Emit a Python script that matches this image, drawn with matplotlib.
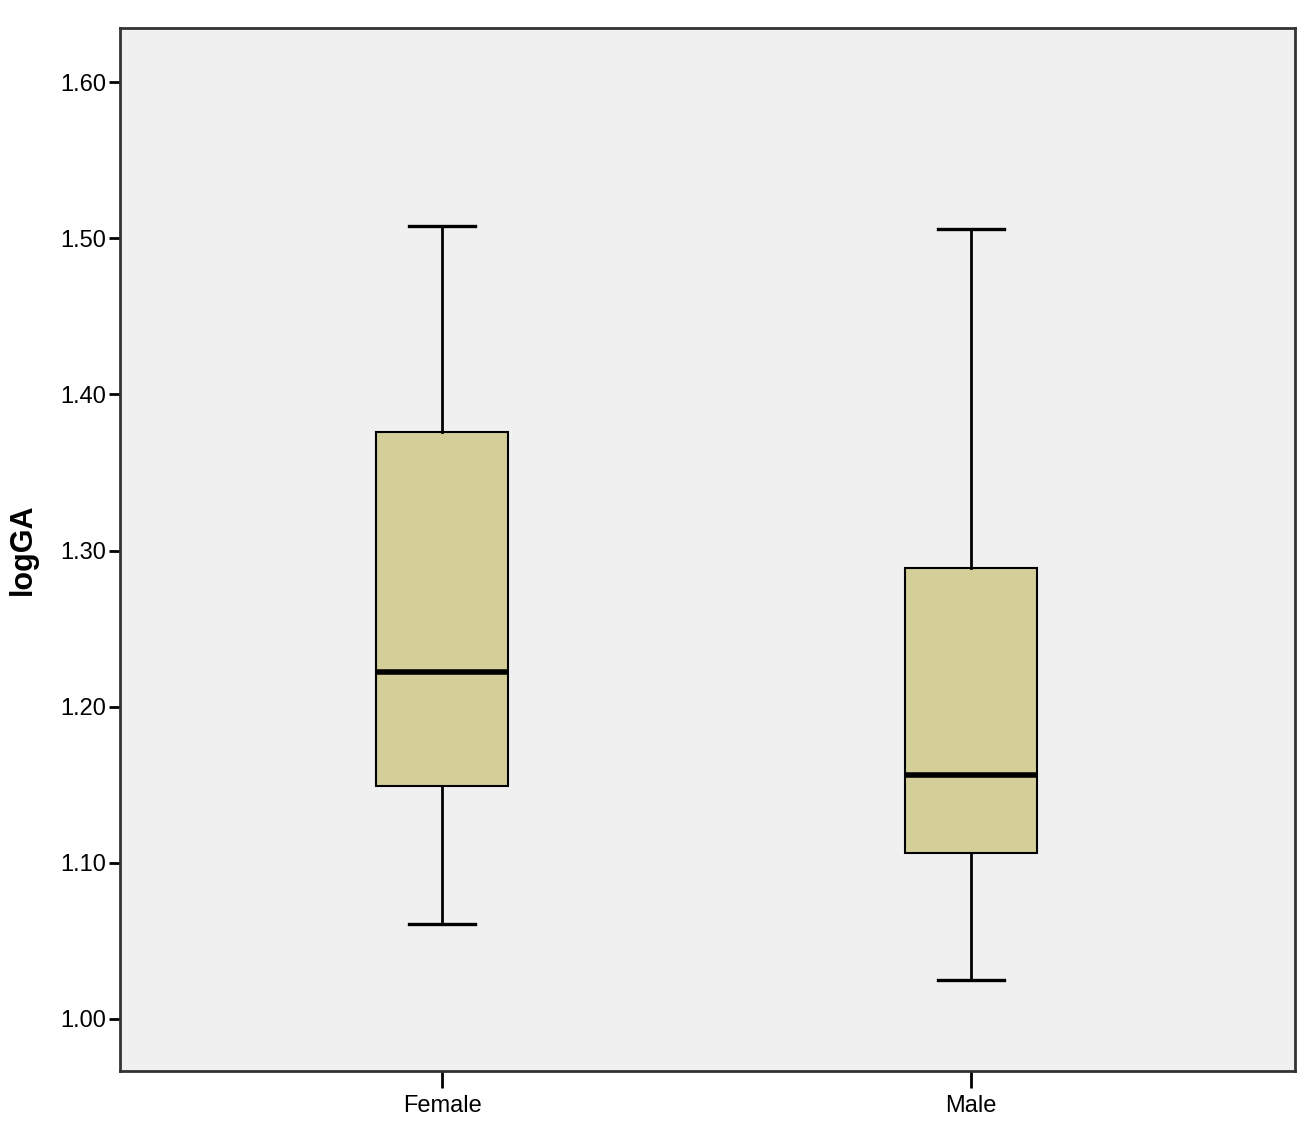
import matplotlib
matplotlib.use("Agg")
import matplotlib.pyplot as plt

# values
groups = ["Female", "Male"]
whisker_low = [1.061, 1.025]
q1 = [1.149, 1.106]
median = [1.222, 1.156]
q3 = [1.376, 1.289]
whisker_high = [1.508, 1.506]
y_ticks = [1.00, 1.10, 1.20, 1.30, 1.40, 1.50, 1.60]

plt.rcParams['font.family'] = ['Liberation Sans', 'DejaVu Sans']

stats = []
for i in range(len(groups)):
    stats.append({"label": groups[i], "whislo": whisker_low[i], "q1": q1[i],
                  "med": median[i], "q3": q3[i], "whishi": whisker_high[i],
                  "fliers": []})

fig = plt.figure(figsize=(13.16, 11.31), dpi=100)
ax = fig.add_axes([0.0912, 0.0531, 0.8928, 0.9221])
ax.set_facecolor("#f0f0f0")

ax.bxp(stats, positions=[1, 2], widths=0.25, patch_artist=True, showfliers=False,
       boxprops=dict(facecolor="#d4cf98", edgecolor="black", linewidth=1.5),
       medianprops=dict(color="black", linewidth=4),
       whiskerprops=dict(color="black", linewidth=2),
       capprops=dict(color="black", linewidth=2.4),
       capwidths=0.125)

ax.set_xlim(0.391, 2.613)
ax.set_ylim(0.9667, 1.6346)
ax.set_yticks(y_ticks)
ax.set_yticklabels(["%.2f" % v for v in y_ticks])
ax.set_xticks([1, 2])
ax.set_xticklabels(groups)
ax.tick_params(axis="y", direction="out", length=8, width=2, labelsize=17, pad=2)
ax.tick_params(axis="x", direction="out", length=12, width=2, labelsize=17, pad=5)

for s in ax.spines.values():
    s.set_linewidth(2)
    s.set_color("#333333")

ax.set_ylabel("logGA", fontsize=22, fontweight="bold", labelpad=16)

fig.savefig("out.png", dpi=100)
